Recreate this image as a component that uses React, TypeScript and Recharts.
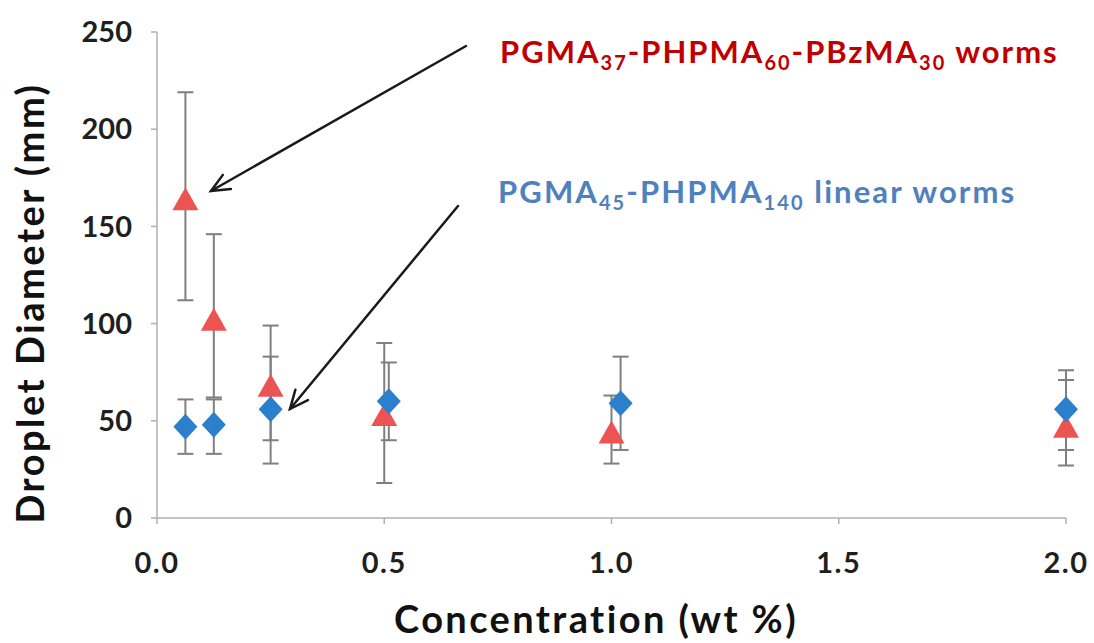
import { ScatterChart, Scatter, XAxis, YAxis, ErrorBar } from 'recharts';

// PGMA37-PHPMA60-PBzMA30 worms (red triangles)
const concRed = [0.0625, 0.125, 0.25, 0.5, 1.0, 2.0];
const diamRed = [164, 102, 68, 53, 44, 47];
const errRedLow = [52, 40, 40, 35, 16, 20];
const errRedHigh = [55, 44, 31, 37, 19, 24];

// PGMA45-PHPMA140 linear worms (blue diamonds)
const concBlue = [0.0625, 0.125, 0.25, 0.51, 1.02, 2.0];
const diamBlue = [47, 48, 56, 60, 59, 56];
const errBlueLow = [14, 15, 16, 20, 24, 21];
const errBlueHigh = [14, 13, 27, 20, 24, 20];

const xTicks = [0, 0.5, 1.0, 1.5, 2.0];
const yTicks = [0, 50, 100, 150, 200, 250];

const FONT = 'Lato, "Open Sans", sans-serif';
const RED = '#EC5454';
const BLUE = '#2A80CC';
const BAR = '#7f7f7f';

const redData = concRed.map((c, i) => ({ x: c, y: diamRed[i], err: [errRedLow[i], errRedHigh[i]] }));
const blueData = concBlue.map((c, i) => ({ x: c, y: diamBlue[i], err: [errBlueLow[i], errBlueHigh[i]] }));

const Triangle = (props: any) => {
  const { cx, cy } = props;
  if (cx == null || cy == null) return null;
  return <polygon points={`${cx},${cy - 12} ${cx + 13},${cy + 11} ${cx - 13},${cy + 11}`} fill={RED} />;
};

const Diamond = (props: any) => {
  const { cx, cy } = props;
  if (cx == null || cy == null) return null;
  return <polygon points={`${cx},${cy - 13} ${cx + 12},${cy} ${cx},${cy + 13} ${cx - 12},${cy}`} fill={BLUE} />;
};

function Arrow({ x1, y1, x2, y2 }: { x1: number; y1: number; x2: number; y2: number }) {
  const a = Math.atan2(y2 - y1, x2 - x1);
  const len = 20;
  const spread = 0.42;
  const p1 = [x2 - len * Math.cos(a - spread), y2 - len * Math.sin(a - spread)];
  const p2 = [x2 - len * Math.cos(a + spread), y2 - len * Math.sin(a + spread)];
  return (
    <g stroke="#1a1a1a" strokeWidth={2.5} fill="none" strokeLinecap="round">
      <line x1={x1} y1={y1} x2={x2} y2={y2} />
      <polyline points={`${p1[0]},${p1[1]} ${x2},${y2} ${p2[0]},${p2[1]}`} />
    </g>
  );
}

const tickStyle = { fill: '#1f1f1f', fontSize: 29, fontWeight: 700, fontFamily: FONT };

export default function App() {
  return (
    <div style={{ position: 'absolute', left: 0, top: 0, width: 1094, height: 643, background: '#fff' }}>
      <ScatterChart width={1094} height={643} margin={{ top: 32, right: 28, bottom: 45, left: 57 }}>
        <XAxis
          type="number"
          dataKey="x"
          domain={[0, 2]}
          ticks={xTicks}
          tickFormatter={(v: number) => v.toFixed(1)}
          height={80}
          tickSize={6}
          tickMargin={28}
          stroke="#b0b0b0"
          strokeWidth={1.5}
          tick={{ ...tickStyle, letterSpacing: 1.5 }}
        />
        <YAxis
          type="number"
          dataKey="y"
          domain={[0, 250]}
          ticks={yTicks}
          width={100}
          tickSize={6}
          tickMargin={19}
          stroke="#b0b0b0"
          strokeWidth={1.5}
          tick={tickStyle}
        />
        <Scatter data={redData} shape={Triangle} isAnimationActive={false}>
          <ErrorBar dataKey="err" direction="y" width={8} stroke={BAR} strokeWidth={2} isAnimationActive={false} />
        </Scatter>
        <Scatter data={blueData} shape={Diamond} isAnimationActive={false}>
          <ErrorBar dataKey="err" direction="y" width={8} stroke={BAR} strokeWidth={2} isAnimationActive={false} />
        </Scatter>
      </ScatterChart>
      <svg width={1094} height={643} style={{ position: 'absolute', left: 0, top: 0, pointerEvents: 'none' }}>
        <text
          transform="translate(44,303) rotate(-90)"
          textAnchor="middle"
          fontFamily={FONT}
          fontWeight={700}
          fontSize={38}
          letterSpacing={2.5}
          fill="#111"
        >
          Droplet Diameter (mm)
        </text>
        <text
          x={596}
          y={633}
          textAnchor="middle"
          fontFamily={FONT}
          fontWeight={700}
          fontSize={38}
          letterSpacing={2.4}
          fill="#111"
        >
          Concentration (wt %)
        </text>
        <text x={500} y={63} fontFamily={FONT} fontWeight={700} fontSize={31} letterSpacing={2} fill="#C00000">
          PGMA<tspan fontSize={20} dy={7}>37</tspan>
          <tspan dy={-7}>-PHPMA</tspan>
          <tspan fontSize={20} dy={7}>60</tspan>
          <tspan dy={-7}>-PBzMA</tspan>
          <tspan fontSize={20} dy={7}>30</tspan>
          <tspan dy={-7}> worms</tspan>
        </text>
        <text x={498} y={203} fontFamily={FONT} fontWeight={700} fontSize={31} letterSpacing={2.1} fill="#4F81BD">
          PGMA<tspan fontSize={20} dy={7}>45</tspan>
          <tspan dy={-7}>-PHPMA</tspan>
          <tspan fontSize={20} dy={7}>140</tspan>
          <tspan dy={-7}> linear worms</tspan>
        </text>
        <Arrow x1={466} y1={46} x2={211} y2={191} />
        <Arrow x1={458} y1={206} x2={290} y2={409} />
      </svg>
    </div>
  );
}
